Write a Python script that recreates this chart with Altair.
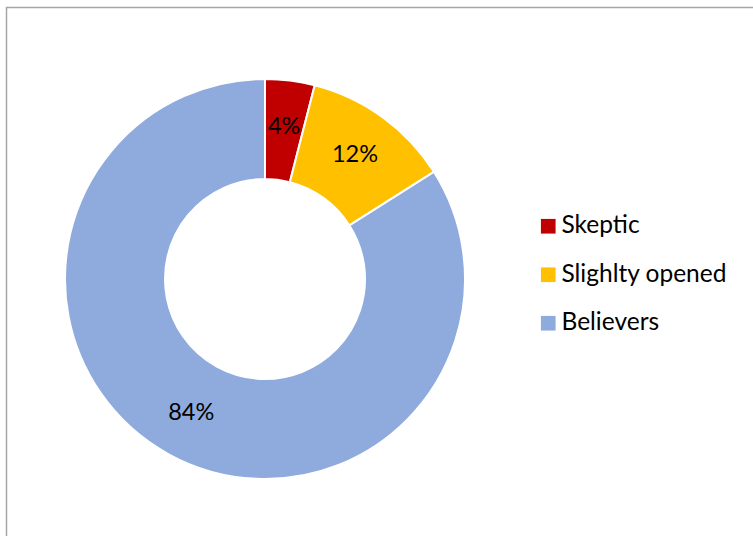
import altair as alt
import pandas as pd

categories = ["Skeptic", "Slighlty opened", "Believers"]
values = [4, 12, 84]
labels = ["4%", "12%", "84%"]
colors = ["#C00000", "#FFC000", "#8FAADC"]

df = pd.DataFrame({"cat": categories, "value": values, "label": labels, "order": [0, 1, 2]})

theta = alt.Theta("value:Q", stack=True)
color = alt.Color(
    "cat:N",
    scale=alt.Scale(domain=categories, range=colors),
    sort=categories,
    legend=alt.Legend(
        title=None,
        orient="none",
        legendX=536,
        legendY=214,
        symbolType="square",
        symbolSize=215,
        symbolStrokeWidth=0,
        labelFontSize=24.5,
        labelFont="Lato",
        labelColor="#000000",
        labelLimit=400,
        rowPadding=23.5,
        labelOffset=1,
    ),
)

arcs = alt.Chart(df).mark_arc(radius=200, radius2=100, stroke="white", strokeWidth=2).encode(
    theta=theta,
    color=color,
    order=alt.Order("order:Q"),
    x=alt.value(265),
    y=alt.value(279),
)

texts = alt.Chart(df).mark_text(radius=153, fontSize=23.5, font="Lato", color="black").encode(
    theta=theta,
    text="label:N",
    order=alt.Order("order:Q"),
    x=alt.value(265),
    y=alt.value(279),
)

border = alt.Chart(pd.DataFrame({"a": [0]})).mark_rect(
    fill=None, fillOpacity=0, stroke="#a6a6a6", strokeWidth=1.5
).encode(
    x=alt.value(6.5), x2=alt.value(800), y=alt.value(7.5), y2=alt.value(600)
)

chart = alt.layer(border, arcs, texts).properties(
    width=753, height=536, padding=0, autosize=alt.AutoSizeParams(type="none")
).configure_view(stroke=None)

chart.save("out.html", embed_options={"renderer": "svg", "actions": False})
